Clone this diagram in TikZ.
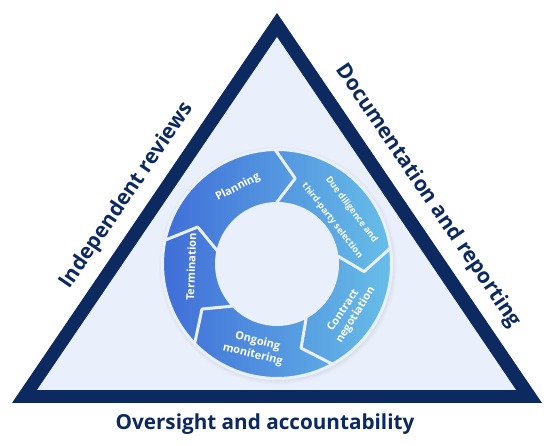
\documentclass[tikz,border=0pt]{standalone}
\usepackage{fontspec}
\setmainfont{Open Sans}
\usetikzlibrary{calc}
\definecolor{navy}{HTML}{0C2960}
\definecolor{paleblue}{HTML}{E9F0FC}
\definecolor{ringleft}{HTML}{3F6CD7}
\definecolor{ringright}{HTML}{68C0E8}
\tikzset{
  sidelabel/.style={text=navy, font=\fontsize{21}{25}\selectfont\bfseries, inner sep=0pt},
  seglabel/.style={text=white, font=\fontsize{11}{13.5}\selectfont\bfseries, inner sep=0pt},
  smalllabel/.style={seglabel, font=\fontsize{9}{11}\selectfont\bfseries},
  halo/.style={draw=black, line width=1.2pt},
}
\begin{document}
\begin{tikzpicture}[x=1pt,y=1pt]
\useasboundingbox (0,0) rectangle (549,446);
\fill[white] (0,0) rectangle (549,446);
% triangle
\coordinate (oA) at (12,43);
\coordinate (oB) at (542,43);
\coordinate (oC) at (277,433);
\coordinate (iA) at (37,56);
\coordinate (iB) at (516,56);
\coordinate (iC) at (277,409);
\fill[navy] (oA) -- (oB) -- (oC) -- cycle;
\fill[paleblue] (iA) -- (iB) -- (iC) -- cycle;
% ring
\begin{scope}[shift={(277,182)}]
  \def\Rout{114.5}
  \def\Rin{60.5}
  \def\Rmid{87.5}
  \def\dA{13}
  % faint shadow halo
  \foreach \k/\o in {1/0.05, 2/0.04, 3/0.03, 4/0.02, 5/0.012} {
    \draw[halo, draw opacity=\o] (1,-1.5) circle[radius=\Rout-1+\k];
  }
  \shade[left color=ringleft, right color=ringright]
    foreach \a/\b in {168/91, 91/8, 8/-61, -61/-136, 224/168} {
      (\a:\Rout) arc[start angle=\a, end angle=\b, radius=\Rout]
      -- ({\b-\dA}:\Rmid) -- (\b:\Rin)
      arc[start angle=\b, end angle=\a, radius=\Rin]
      -- ({\a-\dA}:\Rmid) -- cycle
    };
  \draw[paleblue, line width=3pt, line join=round]
    foreach \a/\b in {168/91, 91/8, 8/-61, -61/-136, 224/168} {
      (\a:\Rout) arc[start angle=\a, end angle=\b, radius=\Rout]
      -- ({\b-\dA}:\Rmid) -- (\b:\Rin)
      arc[start angle=\b, end angle=\a, radius=\Rin]
      -- ({\a-\dA}:\Rmid) -- cycle
    };
  \node[seglabel, rotate=27] (planning) at (117:86) {Planning};
  \node[smalllabel, rotate=-53] (duediligenceA) at (36:92) {Due diligence and};
  \node[smalllabel, rotate=-52] (duediligenceB) at (38:70) {third-party selection};
  \node[seglabel, rotate=56] (contractA) at (-35:80) {Contract};
  \node[seglabel, rotate=58] (contractB) at (-33:94) {negotiation};
  \node[seglabel, rotate=-14] (ongoingA) at (-104:80) {Ongoing};
  \node[seglabel, rotate=-14] (ongoingB) at (-105:94) {monitering};
  \node[seglabel, rotate=88] (termination) at (182:86) {Termination};
\end{scope}
% side labels
\node[sidelabel, rotate=55.8] (independent) at (127,250) {Independent reviews};
\node[sidelabel, rotate=-55.8] (documentation) at (428,250) {Documentation and reporting};
\node[sidelabel, anchor=base, font=\fontsize{20.7}{25}\selectfont\bfseries] (oversight) at (265,16) {Oversight and accountability};
\end{tikzpicture}
\end{document}
